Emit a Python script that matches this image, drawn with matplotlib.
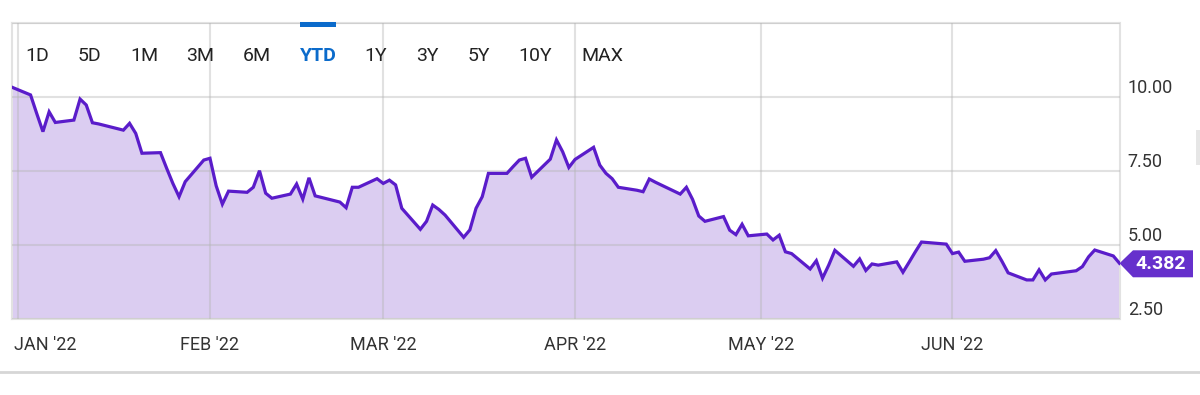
import matplotlib
matplotlib.use("Agg")
import numpy as np
import pandas as pd
import matplotlib.pyplot as plt
import matplotlib.dates as mdates
import matplotlib.transforms as mtransforms
from matplotlib.patches import Polygon, Rectangle
from matplotlib.lines import Line2D
from matplotlib.ticker import FuncFormatter

plt.rcParams['font.family'] = ['Roboto', 'DejaVu Sans']

# closing values (YTD 2022)
dec_days = [31]
dec_vals = [10.33]
jan_days = [3, 4, 5, 6, 7, 10, 11, 12, 13, 14, 18, 19, 20, 21, 24, 25, 26, 27, 28, 31]
jan_vals = [10.07, 9.44, 8.83, 9.50, 9.14, 9.22, 9.93, 9.73, 9.13, 9.09, 8.88, 9.11, 8.77, 8.10,
            8.12, 7.59, 7.08, 6.63, 7.14, 7.87]
feb_days = [1, 2, 3, 4, 7, 8, 9, 10, 11, 14, 15, 16, 17, 18, 22, 23, 24, 25, 28]
feb_vals = [7.93, 7.00, 6.38, 6.82, 6.78, 6.95, 7.51, 6.75, 6.58, 6.72, 7.06, 6.55, 7.27, 6.66,
            6.45, 6.26, 6.95, 6.95, 7.24]
mar_days = [1, 2, 3, 4, 7, 8, 9, 10, 11, 14, 15, 16, 17, 18, 21, 22, 23, 24, 25, 28, 29, 30, 31]
mar_vals = [7.08, 7.19, 7.03, 6.24, 5.53, 5.80, 6.35, 6.20, 6.01, 5.26, 5.51, 6.24, 6.63, 7.42,
            7.42, 7.65, 7.87, 7.93, 7.29, 7.90, 8.55, 8.15, 7.62]
apr_days = [1, 4, 5, 6, 7, 8, 11, 12, 13, 14, 18, 19, 20, 21, 22, 25, 26, 27, 28, 29]
apr_vals = [7.89, 8.30, 7.70, 7.42, 7.24, 6.95, 6.85, 6.80, 7.23, 7.12, 6.72, 6.95, 6.54, 5.98,
            5.80, 5.96, 5.50, 5.35, 5.70, 5.31]
may_days = [2, 3, 4, 5, 6, 9, 10, 11, 12, 13, 16, 17, 18, 19, 20, 23, 24, 25, 26, 27, 31]
may_vals = [5.37, 5.17, 5.33, 4.77, 4.71, 4.19, 4.47, 3.88, 4.32, 4.82, 4.28, 4.53, 4.14, 4.36,
            4.32, 4.43, 4.08, 4.42, 4.77, 5.10, 5.03]
jun_days = [1, 2, 3, 6, 7, 8, 9, 10, 13, 14, 15, 16, 17, 21, 22, 23, 24, 27, 28]
jun_vals = [4.71, 4.76, 4.45, 4.52, 4.57, 4.81, 4.45, 4.06, 3.82, 3.82, 4.16, 3.82, 4.02, 4.13,
            4.27, 4.60, 4.83, 4.63, 4.382]

months = [(2021, 12, dec_days, dec_vals), (2022, 1, jan_days, jan_vals), (2022, 2, feb_days, feb_vals),
          (2022, 3, mar_days, mar_vals), (2022, 4, apr_days, apr_vals), (2022, 5, may_days, may_vals),
          (2022, 6, jun_days, jun_vals)]

y_ticks = [2.5, 5.0, 7.5, 10.0, 12.5]
ranges = ["1D", "5D", "1M", "3M", "6M", "YTD", "1Y", "3Y", "5Y", "10Y", "MAX"]
range_x = [37, 89, 144, 200, 257, 318, 376, 427, 479, 535, 602]   # pixel centres of the buttons
active = "YTD"

dates = []
vals = []
for yr, mo, days, v in months:
    dates += [pd.Timestamp(yr, mo, d) for d in days]
    vals += v
dates = pd.to_datetime(dates)
vals = np.array(vals)

line_c = '#5a1cca'
fill_c = '#dbcdf1'
tag_c = '#6630cc'
blue = '#0b6bcb'

W, H = 1200, 395
fig = plt.figure(figsize=(W / 100, H / 100), dpi=100)
ax = fig.add_axes([12 / W, 1 - 319 / H, (1119.5 - 12) / W, (319 - 23) / H])

ax.fill_between(dates, vals, y_ticks[0], color=fill_c, lw=0, zorder=1)
ax.plot(dates, vals, color=line_c, lw=2.3, zorder=3, solid_joinstyle='miter')

ax.set_xlim(dates[0], dates[-1])
ax.set_ylim(y_ticks[0], y_ticks[-1])
ax.set_yticks(y_ticks)
ax.yaxis.set_major_formatter(FuncFormatter(lambda v, _: '' if v >= 12.5 else '%.2f' % v))
ax.xaxis.set_major_locator(mdates.MonthLocator())
ax.xaxis.set_major_formatter(FuncFormatter(lambda v, _: mdates.num2date(v).strftime("%b '%y").upper()))

ax.grid(True, color='#b4b4b4', alpha=0.4, lw=1.5, zorder=2)
ax.set_axisbelow(False)
for s in ax.spines.values():
    s.set_color('#e2e2e2')
    s.set_linewidth(1.5)

ax.yaxis.tick_right()
ax.tick_params(axis='y', length=0, pad=6, labelsize=13, labelcolor='#333333')
ax.tick_params(axis='x', length=0, pad=12, labelsize=13, labelcolor='#333333')

fig.canvas.draw()
for lbl in ax.get_yticklabels():
    lbl.set_verticalalignment('bottom')
first = ax.get_xticklabels()[0]
first.set_horizontalalignment('left')
first.set_transform(first.get_transform() + mtransforms.ScaledTranslation(-4 / 100, 0, fig.dpi_scale_trans))

# last value tag
trans = fig.dpi_scale_trans + mtransforms.ScaledTranslation(mdates.date2num(dates[-1]), vals[-1], ax.transData)
tag = Polygon([(0, 0), (0.135, 0.13), (0.735, 0.13), (0.735, -0.14), (0.135, -0.14)],
              closed=True, facecolor=tag_c, edgecolor='none', transform=trans, clip_on=False, zorder=5)
ax.add_patch(tag)
ax.text(0.41, -0.005, '%.3f' % vals[-1], transform=trans, color='white', fontsize=14,
        fontweight='bold', ha='center', va='center', zorder=6, clip_on=False)

# range buttons
for lab, xc in zip(ranges, range_x):
    on = lab == active
    fig.text(xc / W, 1 - 56 / H, lab, ha='center', va='center', fontsize=14,
             color=blue if on else '#222222', fontweight='bold' if on else 'normal')
    if on:
        fig.add_artist(Rectangle(((xc - 18) / W, 1 - 27 / H), 36 / W, 5 / H,
                                 transform=fig.transFigure, color=blue, lw=0))

# page separator and scrollbar hint
fig.add_artist(Line2D([0, 1], [1 - 372 / H] * 2, transform=fig.transFigure, color='#d6d6d6', lw=2))
fig.add_artist(Rectangle((1196 / W, 1 - 165 / H), 4 / W, 35 / H, transform=fig.transFigure,
                         color='#e6e6e6', lw=0))

fig.savefig("out.png", dpi=100)
